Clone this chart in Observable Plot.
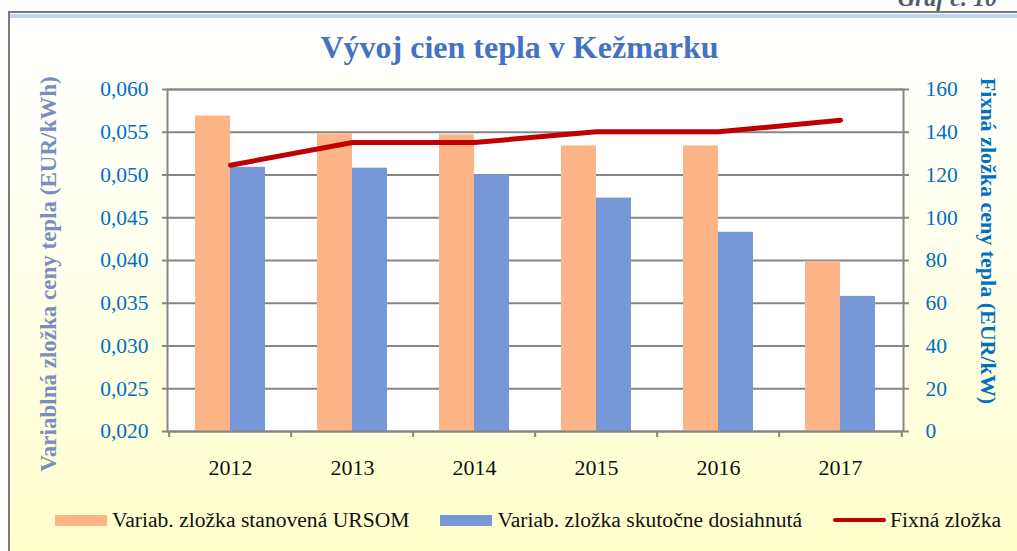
<!DOCTYPE html>
<html>
<head>
<meta charset="utf-8">
<script src="https://cdn.jsdelivr.net/npm/d3@7"></script>
<script src="https://cdn.jsdelivr.net/npm/@observablehq/plot@0.6"></script>
<style>
  html, body { margin: 0; padding: 0; background: #fdfdfb; }
  #wrap { position: relative; width: 1017px; height: 551px; overflow: hidden; background: #fdfdfb; font-family: "Liberation Serif", "Times New Roman", serif; }
  #bg { position: absolute; left: 10px; top: 13px; right: 0; bottom: 0; background: linear-gradient(to bottom, #ffffff 0%, #fffff4 30%, #ffffcc 100%); }
  #frameTop { position: absolute; left: 8px; top: 11px; right: 0; height: 2px; background: #7a7a7a; }
  #frameBlue { position: absolute; left: 10px; top: 14px; right: 0; height: 4px; background: #c3d3ef; }
  #frameLeft { position: absolute; left: 8px; top: 11px; width: 2px; bottom: 0; background: #7a7a7a; }
  #graf { position: absolute; right: 20px; top: -14px; font-size: 24px; font-weight: bold; font-style: italic; color: #4f5a6e; line-height: 1; white-space: nowrap; }
  #title { position: absolute; left: 0; width: 1039px; top: 31px; text-align: center; font-size: 32px; font-weight: bold; color: #4472c4; line-height: 1; white-space: nowrap; }
  #chart { position: absolute; left: 0; top: 70px; }
  .ylab { position: absolute; font-weight: bold; white-space: nowrap; line-height: 1; }
  #ylabL { left: 48px; top: 274px; font-size: 23px; color: #7b8cc2; transform: translate(-50%, -50%) rotate(-90deg); }
  #ylabR { left: 988px; top: 241px; font-size: 22px; color: #0070c0; transform: translate(-50%, -50%) rotate(90deg); }
  #legend { position: absolute; left: 55px; top: 508px; display: flex; align-items: center; height: 24px; font-size: 21.6px; color: #111; white-space: nowrap; }
  .item { display: flex; align-items: center; margin-right: 31px; }
  .sw { width: 52px; height: 11px; margin-right: 5px; }
  .ln { width: 53px; height: 4px; margin-right: 4px; border-radius: 2px; }
</style>
</head>
<body>
<div id="wrap">
  <div id="bg"></div>
  <div id="frameTop"></div>
  <div id="frameBlue"></div>
  <div id="frameLeft"></div>
  <div id="graf"></div>
  <div id="title"></div>
  <div id="chart"></div>
  <div id="ylabL" class="ylab"></div>
  <div id="ylabR" class="ylab"></div>
  <div id="legend"></div>
</div>
<script>
// ---- data ----
const years = ["2012", "2013", "2014", "2015", "2016", "2017"];
const ursom = [0.0569, 0.0548, 0.0547, 0.0534, 0.0534, 0.0399];   // Variab. zložka stanovená URSOM (EUR/kWh)
const actual = [0.0509, 0.0508, 0.0500, 0.0473, 0.0433, 0.0358];  // Variab. zložka skutočne dosiahnutá (EUR/kWh)
const fixed = [124.6, 135.2, 135.2, 140.2, 140.2, 145.6];         // Fixná zložka (EUR/kW)
const leftTicks = [0.020, 0.025, 0.030, 0.035, 0.040, 0.045, 0.050, 0.055, 0.060];
const rightTicks = [0, 20, 40, 60, 80, 100, 120, 140, 160];
const seriesNames = ["Variab. zložka stanovená URSOM", "Variab. zložka skutočne dosiahnutá", "Fixná zložka"];
const seriesColors = ["#fdb587", "#7698d6", "#c00000"];
const titleText = "Vývoj cien tepla v Kežmarku";
const leftLabel = "Variablná zložka ceny tepla (EUR/kWh)";
const rightLabel = "Fixná zložka ceny tepla (EUR/kW)";
const grafText = "Graf č. 10";

document.getElementById("title").textContent = titleText;
document.getElementById("graf").textContent = grafText;
document.getElementById("ylabL").textContent = leftLabel;
document.getElementById("ylabR").textContent = rightLabel;

// secondary axis (0..160) mapped onto the primary y domain (0.020..0.060)
const yMin = leftTicks[0], yMax = leftTicks[leftTicks.length - 1];
const rMax = rightTicks[rightTicks.length - 1];
const toLeft = v => yMin + v * (yMax - yMin) / rMax;
const fromLeft = d => Math.round((d - yMin) * rMax / (yMax - yMin));

const rows = years.map((year, i) => ({year, ursom: ursom[i], actual: actual[i], fixed: fixed[i]}));

const W = 1017, H = 420, mL = 167, mR = 114, mT = 19, mB = 59;
const step = (W - mL - mR) / years.length;
const padIn = 0.43;
const half = step * (1 - padIn) / 2;
const gray = "#868686";
const fmtL = d => d3.format(".3f")(d).replace(".", ",");

const chart = Plot.plot({
  width: W, height: H,
  marginLeft: mL, marginRight: mR, marginTop: mT, marginBottom: mB,
  style: {fontFamily: "'Liberation Serif', 'Times New Roman', serif", background: "transparent", overflow: "visible"},
  x: {domain: years, paddingInner: padIn, paddingOuter: padIn / 2, axis: null},
  y: {domain: [yMin, yMax], clamp: true, axis: null},
  marks: [
    Plot.frame({fill: "white", stroke: null}),
    Plot.ruleY(leftTicks, {stroke: gray, strokeWidth: 2}),
    Plot.barY(rows, {x: "year", y: "ursom", fill: seriesColors[0], insetRight: half}),
    Plot.barY(rows, {x: "year", y: "actual", fill: seriesColors[1], insetLeft: half}),
    Plot.frame({stroke: gray, strokeWidth: 2}),
    Plot.axisY(leftTicks, {anchor: "left", tickSize: 5, tickPadding: 14, stroke: gray, strokeWidth: 2, fill: "#0070c0", fontSize: 21.5, tickFormat: fmtL, label: null}),
    Plot.axisY(rightTicks.map(toLeft), {anchor: "right", tickSize: 5, tickPadding: 17, stroke: gray, strokeWidth: 2, fill: "#0070c0", fontSize: 21.5, tickFormat: fromLeft, label: null}),
    Plot.axisX(years, {anchor: "bottom", tickSize: 6, dx: -step / 2, stroke: gray, strokeWidth: 2, tickFormat: () => "", label: null}),
    Plot.axisX([years[years.length - 1]], {anchor: "bottom", tickSize: 6, dx: step / 2, stroke: gray, strokeWidth: 2, tickFormat: () => "", label: null}),
    Plot.axisX(years, {anchor: "bottom", tickSize: 0, tickPadding: 28, fill: "#111", fontSize: 22, label: null}),
    Plot.line(rows, {x: "year", y: d => toLeft(d.fixed), stroke: seriesColors[2], strokeWidth: 5, strokeLinecap: "round", strokeLinejoin: "round"})
  ]
});
document.getElementById("chart").appendChild(chart);

// legend
const legend = document.getElementById("legend");
seriesNames.forEach((name, i) => {
  const item = document.createElement("div");
  item.className = "item";
  const sw = document.createElement("div");
  sw.className = i < 2 ? "sw" : "ln";
  sw.style.background = seriesColors[i];
  const tx = document.createElement("span");
  tx.textContent = name;
  item.appendChild(sw);
  item.appendChild(tx);
  legend.appendChild(item);
});
</script>
</body>
</html>
